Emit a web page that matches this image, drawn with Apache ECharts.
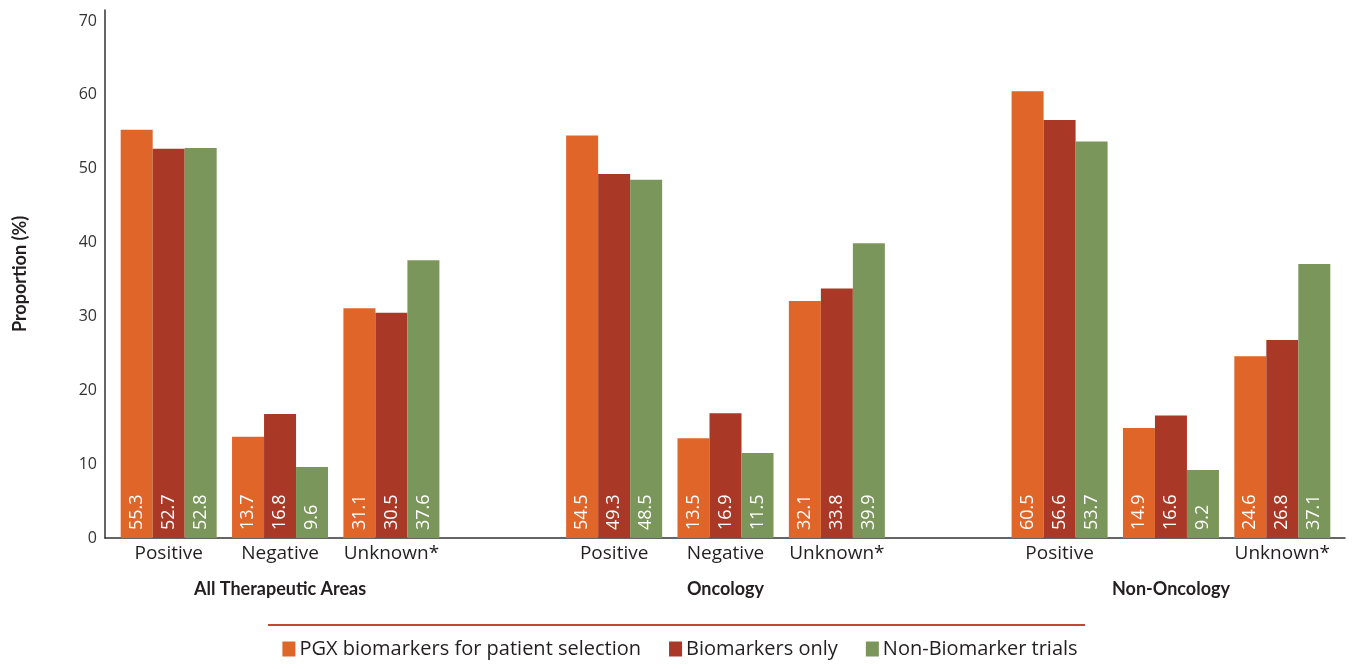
<!DOCTYPE html>
<html>
<head>
<meta charset="utf-8">
<script src="https://cdn.jsdelivr.net/npm/echarts@6/dist/echarts.min.js"></script>
<style>html,body{margin:0;padding:0;background:#fff}#c{width:1360px;height:669px}</style>
</head>
<body>
<div id="c"></div>
<script>
const groups = ['All Therapeutic Areas', 'Oncology', 'Non-Oncology'];
const outcomes = ['Positive', 'Negative', 'Unknown*'];
const tickLabels = [
  ['Positive', 'Negative', 'Unknown*'],
  ['Positive', 'Negative', 'Unknown*'],
  ['Positive', '', 'Unknown*']
];
const seriesNames = ['PGX biomarkers for patient selection', 'Biomarkers only', 'Non-Biomarker trials'];
const pgxValues = [[55.3, 13.7, 31.1], [54.5, 13.5, 32.1], [60.5, 14.9, 24.6]];
const biomarkerValues = [[52.7, 16.8, 30.5], [49.3, 16.9, 33.8], [56.6, 16.6, 26.8]];
const nonBiomarkerValues = [[52.8, 9.6, 37.6], [48.5, 11.5, 39.9], [53.7, 9.2, 37.1]];
const yTicks = [0, 10, 20, 30, 40, 50, 60, 70];
const colors = ['#df6529', '#a93926', '#7b965a'];

// build padded category axis (one empty slot between groups)
const cats = [], labels = [], groupLabels = [];
groups.forEach((g, gi) => {
  outcomes.forEach((o, oi) => {
    cats.push(g + '|' + o);
    labels.push(tickLabels[gi][oi]);
    groupLabels.push(oi === 1 ? g : '');
  });
  if (gi < groups.length - 1) { cats.push('gap' + gi); labels.push(''); groupLabels.push(''); }
});
function pad(vals) {
  const out = [];
  vals.forEach((arr, gi) => {
    arr.forEach(v => out.push(v));
    if (gi < vals.length - 1) out.push('-');
  });
  return out;
}
const allVals = [pgxValues, biomarkerValues, nonBiomarkerValues];
const FONT = '"Open Sans", "Noto Sans", sans-serif';
const NARROW = 'Lato, "Open Sans", sans-serif';
const TXT = '#231f20';
const yMax = 71.5;

const chart = echarts.init(document.getElementById('c'), null, {renderer: 'canvas'});
chart.setOption({
  animation: false,
  textStyle: {fontFamily: FONT},
  grid: [
    {left: 113, right: 22, top: 10, bottom: 131},
    {left: 105, right: 15, top: 10, bottom: 131}
  ],
  xAxis: [
    {type: 'category', gridIndex: 0, data: cats, position: 'bottom',
     axisLine: {show: false}, axisTick: {show: false},
     axisLabel: {interval: 0, margin: 6, fontSize: 19, color: TXT, fontFamily: FONT,
       formatter: (v, i) => labels[i]}},
    {type: 'category', gridIndex: 0, data: cats, position: 'bottom', offset: 36,
     axisLine: {show: false}, axisTick: {show: false},
     axisLabel: {interval: 0, margin: 6, fontSize: 18, fontWeight: 'bold', color: TXT, fontFamily: NARROW,
       formatter: (v, i) => groupLabels[i]}},
    {type: 'value', gridIndex: 1, min: 0, max: 1,
     axisLine: {show: true, lineStyle: {color: '#333', width: 1.5}},
     axisTick: {show: false}, axisLabel: {show: false}, splitLine: {show: false}}
  ],
  yAxis: [
    {type: 'value', gridIndex: 1, min: 0, max: yMax, interval: 10,
     name: 'Proportion (%)', nameLocation: 'middle', nameGap: 76,
     nameTextStyle: {fontSize: 18, fontWeight: 'bold', color: TXT, fontFamily: NARROW},
     axisLine: {show: true, lineStyle: {color: '#333', width: 1.5}},
     axisTick: {show: false}, splitLine: {show: false},
     axisLabel: {fontSize: 16, color: '#333', margin: 8, showMaxLabel: false,
       formatter: v => (yTicks.indexOf(v) >= 0 ? String(v) : '')}},
    {type: 'value', gridIndex: 0, min: 0, max: yMax, show: false}
  ],
  legend: {
    top: 634, left: 'center', itemWidth: 13, itemHeight: 15, itemGap: 28, icon: 'rect',
    textStyle: {fontSize: 20, color: TXT, fontFamily: FONT, padding: [0, 0, 0, -1]},
    data: seriesNames
  },
  graphic: [
    {type: 'line', shape: {x1: 268, y1: 625, x2: 1085, y2: 625},
     style: {stroke: '#c14a2e', lineWidth: 2}}
  ],
  series: seriesNames.map((n, si) => ({
    name: n, type: 'bar', xAxisIndex: 0, yAxisIndex: 1,
    barWidth: 32, barGap: '0%',
    itemStyle: {color: colors[si]},
    label: {show: true, position: 'insideBottom', distance: 8, rotate: 90,
      align: 'left', verticalAlign: 'middle', color: '#fff', fontSize: 18, fontFamily: FONT,
      formatter: p => p.value.toFixed(1)},
    data: pad(allVals[si])
  }))
});
</script>
</body>
</html>
